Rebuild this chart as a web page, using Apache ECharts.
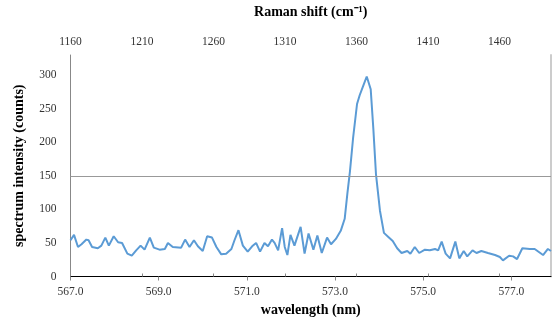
<!DOCTYPE html>
<html>
<head>
<meta charset="utf-8">
<script src="https://cdn.jsdelivr.net/npm/echarts@6/dist/echarts.min.js"></script>
<style>
  html, body { margin: 0; padding: 0; background: #fff; }
  #chart { width: 555px; height: 326px; }
</style>
</head>
<body>
<div id="chart"></div>
<script>
// wavelength (nm)
const wavelength = [
  567.00, 567.08, 567.17, 567.25, 567.36, 567.41, 567.49, 567.62, 567.70, 567.79,
  567.87, 567.98, 568.08, 568.17, 568.29, 568.39, 568.49, 568.59, 568.68, 568.80,
  568.89, 569.02, 569.14, 569.21, 569.32, 569.51, 569.60, 569.70, 569.80, 569.89,
  570.00, 570.10, 570.21, 570.31, 570.42, 570.53, 570.65, 570.72, 570.81, 570.91,
  571.02, 571.12, 571.21, 571.30, 571.40, 571.48, 571.57, 571.63, 571.71, 571.80,
  571.86, 571.92, 571.99, 572.08, 572.22, 572.31, 572.40, 572.51, 572.60, 572.70,
  572.82, 572.91, 573.02, 573.13, 573.22, 573.28, 573.34, 573.41, 573.50, 573.56,
  573.64, 573.72, 573.81, 573.87, 573.93, 574.02, 574.11, 574.21, 574.31, 574.41,
  574.51, 574.64, 574.71, 574.81, 574.91, 575.04, 575.15, 575.27, 575.34, 575.42,
  575.51, 575.61, 575.73, 575.82, 575.92, 576.00, 576.12, 576.21, 576.32, 576.47,
  576.63, 576.74, 576.81, 576.95, 577.04, 577.13, 577.25, 577.42, 577.53, 577.72,
  577.83, 577.90
];
// spectrum intensity (counts)
const counts = [
  54, 62, 44, 48, 55, 54, 44, 42, 46, 58,
  46, 60, 51, 50, 34, 31, 39, 46, 40, 58,
  43, 40, 41, 50, 44, 43, 55, 44, 54, 45,
  38, 60, 58, 44, 33, 34, 41, 54, 69, 46,
  37, 45, 50, 37, 50, 45, 55, 50, 39, 72,
  44, 32, 62, 46, 74, 34, 64, 40, 61, 35,
  58, 48, 56, 68, 86, 123, 157, 206, 257, 270,
  284, 298, 279, 220, 152, 98, 65, 59, 53, 42,
  35, 38, 34, 44, 35, 40, 39, 41, 39, 52,
  34, 27, 52, 27, 38, 30, 39, 35, 38, 35,
  32, 29, 24, 31, 30, 26, 42, 41, 41, 32,
  41, 38
];
const wlTicks = [567, 569, 571, 573, 575, 577];
const ramanRange = [1160, 1496];

const serif = '"Liberation Serif", "Times New Roman", serif';
const points = wavelength.map((w, i) => [w, counts[i]]);

const chart = echarts.init(document.getElementById('chart'));
chart.setOption({
  animation: false,
  grid: { left: 70.5, right: 4, top: 52, bottom: 49.5 },
  xAxis: [
    {
      type: 'value',
      position: 'bottom',
      min: 567,
      max: 577.9,
      interval: 2,
      name: 'wavelength (nm)',
      nameLocation: 'middle',
      nameGap: 27,
      nameTextStyle: { fontFamily: serif, fontWeight: 'bold', fontSize: 14, color: '#000' },
      axisLine: { show: false },
      axisTick: { show: true, length: 4, lineStyle: { color: '#888' } },
      axisLabel: {
        fontFamily: serif, fontSize: 11.5, color: '#333', margin: 9,
        showMaxLabel: false,
        formatter: v => wlTicks.includes(v) ? v.toFixed(1) : ''
      },
      splitLine: { show: false }
    },
    {
      type: 'value',
      position: 'top',
      min: ramanRange[0],
      max: ramanRange[1],
      interval: 50,
      name: 'Raman shift (cm\u207B\u00B9)',
      nameLocation: 'middle',
      nameGap: 36,
      nameTextStyle: { fontFamily: serif, fontWeight: 'bold', fontSize: 14, color: '#000' },
      axisLine: { show: true, lineStyle: { color: '#000', width: 1 } },
      axisTick: { show: true, length: 3, lineStyle: { color: '#888' } },
      axisLabel: {
        fontFamily: serif, fontSize: 11.5, color: '#333', margin: 7,
        showMaxLabel: false,
        formatter: v => String(v)
      },
      splitLine: { show: false }
    }
  ],
  yAxis: [
    {
      type: 'value',
      min: 0,
      max: 330,
      interval: 50,
      name: 'spectrum intensity (counts)',
      nameLocation: 'middle',
      nameGap: 44,
      nameTextStyle: { fontFamily: serif, fontWeight: 'bold', fontSize: 14, color: '#000' },
      axisLine: { show: true, lineStyle: { color: '#888' } },
      axisTick: { show: false },
      axisLabel: { fontFamily: serif, fontSize: 11.5, color: '#333', margin: 14, showMaxLabel: false },
      splitLine: { show: false }
    },
    {
      type: 'value',
      position: 'right',
      min: 0,
      max: 330,
      axisLine: { show: true, lineStyle: { color: '#ccc', width: 2 } },
      axisTick: { show: false },
      axisLabel: { show: false },
      splitLine: { show: false }
    }
  ],
  series: [
    {
      type: 'line',
      xAxisIndex: 0,
      yAxisIndex: 0,
      data: points,
      showSymbol: false,
      lineStyle: { color: '#5B9BD5', width: 2 },
      markLine: {
        silent: true,
        symbol: 'none',
        label: { show: false },
        lineStyle: { color: '#999', type: 'solid', width: 1 },
        data: [{ yAxis: 150 }]
      }
    }
  ]
});
</script>
</body>
</html>
